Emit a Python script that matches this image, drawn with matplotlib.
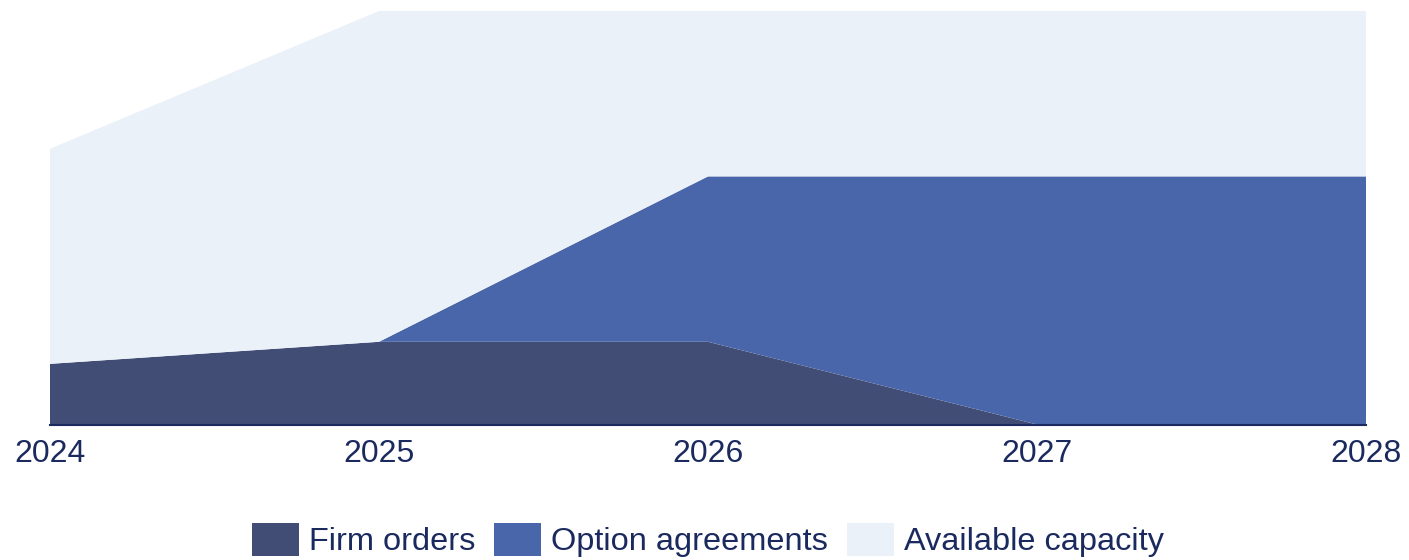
import matplotlib.pyplot as plt
from matplotlib.patches import Patch

plt.rcParams['font.family'] = ['Liberation Sans', 'DejaVu Sans']

years = [2024, 2025, 2026, 2027, 2028]
firm_orders = [2.2, 3.0, 3.0, 0.0, 0.0]
option_agreements = [0.0, 0.0, 6.0, 9.0, 9.0]
available_capacity = [7.8, 12.0, 6.0, 6.0, 6.0]
labels = ['Firm orders', 'Option agreements', 'Available capacity']
colors = ['#414D75', '#4866A9', '#EAF1F9']
text_color = '#1B2A5E'

fig = plt.figure(figsize=(14.09, 5.6), dpi=100)
ax = fig.add_axes([50 / 1409, 1 - 424.5 / 560, 1316 / 1409, 413.5 / 560])

ax.stackplot(years, firm_orders, option_agreements, available_capacity,
             colors=colors, linewidth=0)

ax.set_xlim(2024, 2028)
ax.set_ylim(0, 15)
ax.set_xticks(years)
ax.set_xticklabels([str(y) for y in years])
ax.set_yticks([])
ax.tick_params(axis='x', length=0, pad=10.5, labelsize=23, colors=text_color)
for s in ['top', 'left', 'right']:
    ax.spines[s].set_visible(False)
ax.spines['bottom'].set_color(text_color)
ax.spines['bottom'].set_linewidth(1.5)
ax.spines['bottom'].set_zorder(5)

handles = [Patch(facecolor=c, edgecolor='none') for c in colors]
fig.legend(handles, labels, loc='center', ncol=3,
           bbox_to_anchor=(708 / 1409, 1 - 540 / 560), frameon=False,
           fontsize=23.4, labelcolor=text_color, handlelength=1.45,
           handleheight=1.2, handletextpad=0.31, columnspacing=0.58,
           borderpad=0)

fig.savefig('out.png', dpi=100)
